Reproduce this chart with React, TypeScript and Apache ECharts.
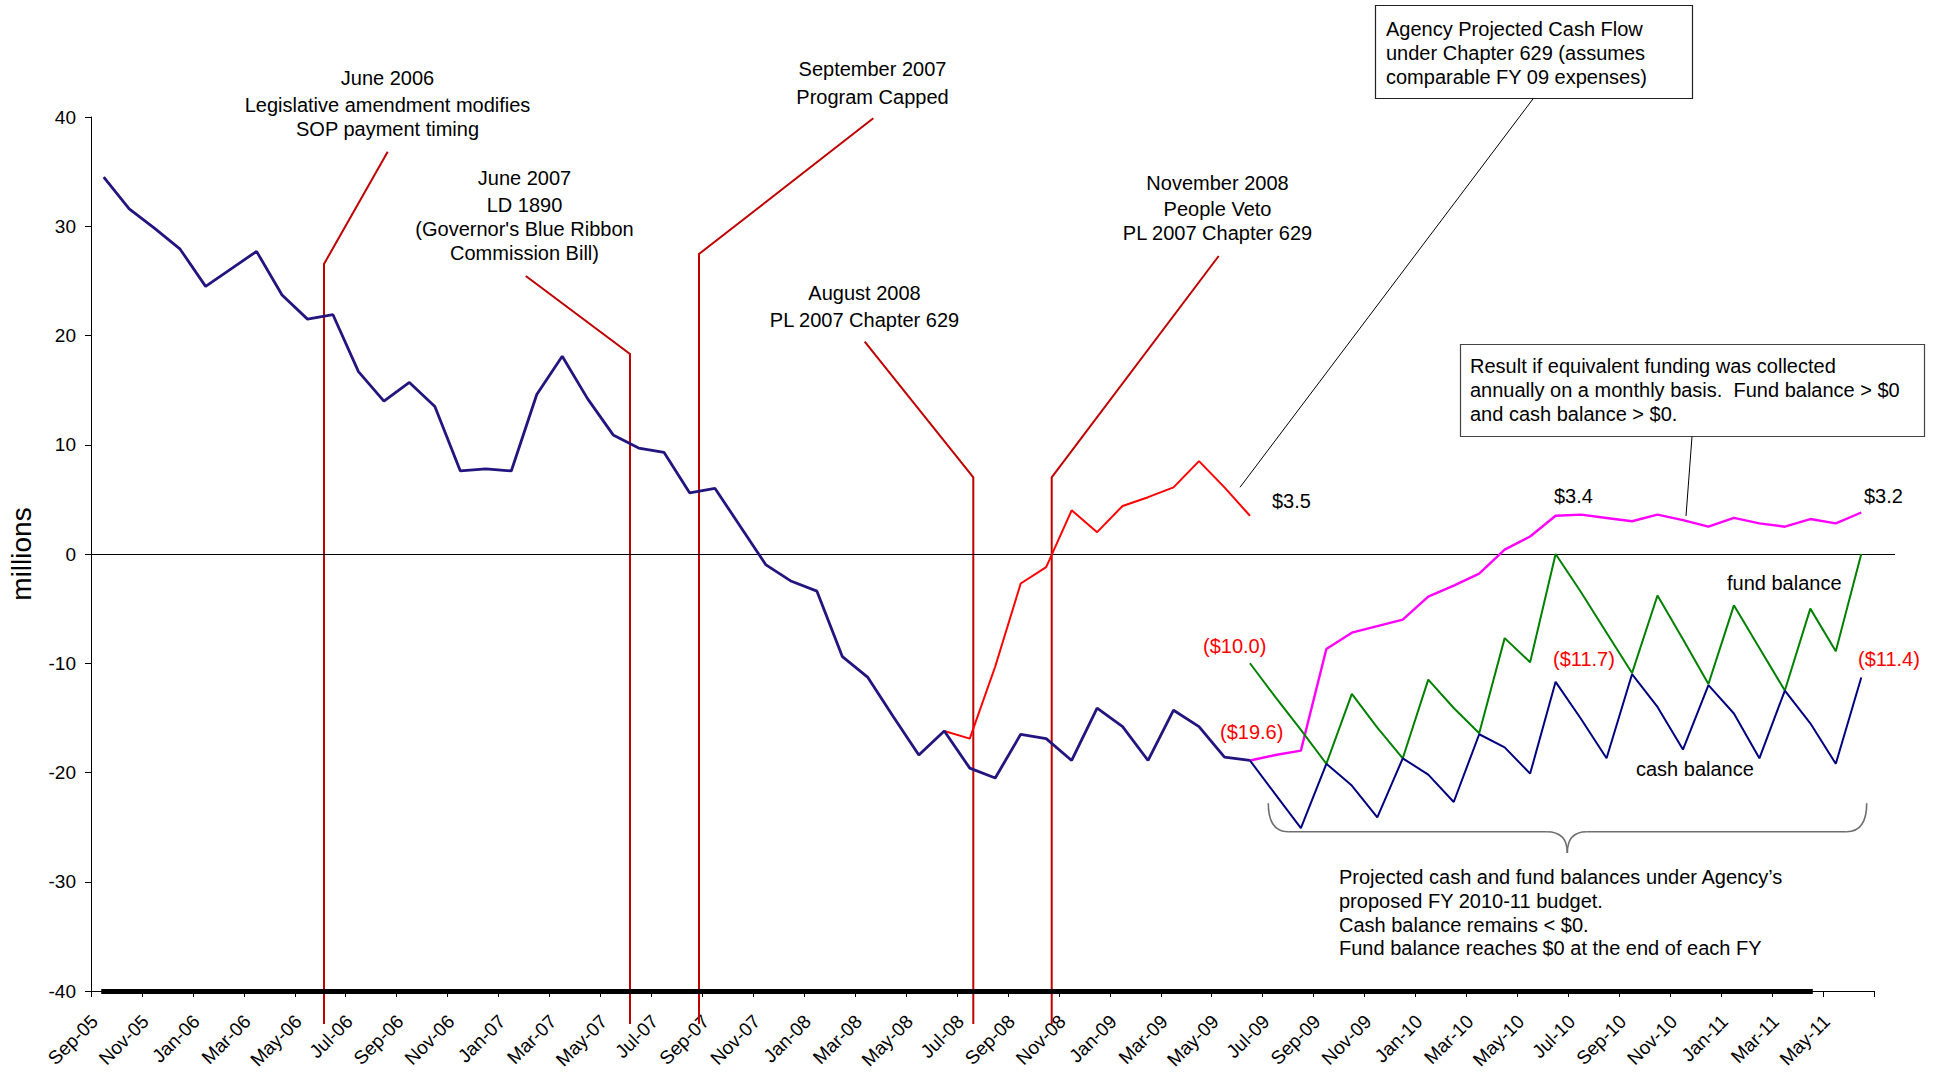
import React, { useEffect, useRef } from "react";
import * as echarts from "echarts";

// ---------- data ----------
const months = [
  "Sep-05","Oct-05","Nov-05","Dec-05","Jan-06","Feb-06","Mar-06","Apr-06","May-06","Jun-06",
  "Jul-06","Aug-06","Sep-06","Oct-06","Nov-06","Dec-06","Jan-07","Feb-07","Mar-07","Apr-07",
  "May-07","Jun-07","Jul-07","Aug-07","Sep-07","Oct-07","Nov-07","Dec-07","Jan-08","Feb-08",
  "Mar-08","Apr-08","May-08","Jun-08","Jul-08","Aug-08","Sep-08","Oct-08","Nov-08","Dec-08",
  "Jan-09","Feb-09","Mar-09","Apr-09","May-09","Jun-09","Jul-09","Aug-09","Sep-09","Oct-09",
  "Nov-09","Dec-09","Jan-10","Feb-10","Mar-10","Apr-10","May-10","Jun-10","Jul-10","Aug-10",
  "Sep-10","Oct-10","Nov-10","Dec-10","Jan-11","Feb-11","Mar-11","Apr-11","May-11","Jun-11",
];

// actual cash balance, Sep-05 .. Jun-09
const cashActual = [
  34.5, 31.6, 29.8, 27.9, 24.5, 26.1, 27.7, 23.7, 21.5, 21.9,
  16.7, 14.0, 15.7, 13.5, 7.6, 7.8, 7.6, 14.6, 18.1, 14.2,
  10.9, 9.7, 9.3, 5.6, 6.0, 2.5, -1.0, -2.5, -3.4, -9.4,
  -11.3, -14.9, -18.4, -16.2, -19.6, -20.5, -16.5, -16.9, -18.9, -14.1,
  -15.8, -18.9, -14.3, -15.8, -18.6, -18.9,
];
const cashActualStart = 0;

// Agency projected cash flow under Chapter 629, Jun-08 .. Jun-09
const chapter629 = [-16.2, -16.9, -10.3, -2.7, -1.2, 4.0, 2.0, 4.4, 5.2, 6.1, 8.5, 6.1, 3.5];
const chapter629Start = 33;

// projections, Jun-09 .. Jun-11
const projStart = 45;
const monthlyFunding = [
  -18.9, -18.4, -18.0, -8.7, -7.2, -6.6, -6.0, -3.9, -2.9, -1.8,
  0.4, 1.6, 3.5, 3.6, 3.3, 3.0, 3.6, 3.1, 2.5, 3.3,
  2.8, 2.5, 3.2, 2.8, 3.8,
];
const fundBalance = [
  -10.0, -13.1, -16.1, -19.2, -12.8, -15.9, -18.7, -11.5, -14.1, -16.4,
  -7.7, -9.9, 0.0, -3.5, -7.2, -10.9, -3.8, -7.8, -11.9, -4.7,
  -8.6, -12.5, -5.0, -8.9, 0.0,
];
const cashProjected = [
  -18.9, -22.0, -25.1, -19.2, -21.2, -24.1, -18.7, -20.2, -22.7, -16.5,
  -17.7, -20.1, -11.7, -15.1, -18.7, -11.0, -14.0, -17.9, -12.0, -14.6,
  -18.7, -12.5, -15.5, -19.2, -11.3,
];

const yMin = -40;
const yMax = 40;
const yStep = 10;
const baselineEnd = 67; // index of last month covered by the heavy base rule

const FONT = "'Liberation Sans', Arial, sans-serif";

function pad(start: number, values: number[]) {
  const out: (number | null)[] = months.map(() => null);
  values.forEach((v, k) => {
    out[start + k] = v;
  });
  return out;
}

// ---------- annotations (page pixels) ----------
type Note = { cx: number; lines: string[]; ys: number[] };
const eventNotes: Note[] = [
  { cx: 387.5, lines: ["June 2006", "Legislative amendment modifies", "SOP payment timing"], ys: [78, 105, 129] },
  { cx: 524.5, lines: ["June 2007", "LD 1890", "(Governor's Blue Ribbon", "Commission Bill)"], ys: [178, 205, 229, 253] },
  { cx: 872.5, lines: ["September 2007", "Program Capped"], ys: [69, 97] },
  { cx: 864.5, lines: ["August 2008", "PL 2007 Chapter 629"], ys: [293, 320] },
  { cx: 1217.5, lines: ["November 2008", "People Veto", "PL 2007 Chapter 629"], ys: [183, 209, 233] },
];
const eventLines: number[][][] = [
  [[387.7, 151.7], [324, 264], [324, 1024]],
  [[525.8, 276], [630, 354], [630, 1024]],
  [[873.3, 118.3], [699, 254], [699, 1024]],
  [[864.7, 341.7], [973.3, 477.3], [973.3, 1024]],
  [[1218.7, 256], [1051.7, 477.3], [1051.7, 1024]],
];

const box1Lines = ["Agency Projected Cash Flow", "under Chapter 629 (assumes", "comparable FY 09 expenses)"];
const box2Lines = [
  "Result if equivalent funding was collected",
  "annually on a monthly basis.  Fund balance > $0",
  "and cash balance > $0.",
];
const bottomLines = [
  "Projected cash and fund balances under Agency\u2019s",
  "proposed FY 2010-11 budget.",
  "Cash balance remains < $0.",
  "Fund balance reaches $0 at the end of each FY",
];

const valueNotes = [
  { text: "$3.5", x: 1272, y: 501, color: "#000" },
  { text: "$3.4", x: 1554, y: 496, color: "#000" },
  { text: "$3.2", x: 1864, y: 496, color: "#000" },
  { text: "($10.0)", x: 1203, y: 646, color: "#ff0000" },
  { text: "($19.6)", x: 1220, y: 732, color: "#ff0000" },
  { text: "($11.7)", x: 1553, y: 659, color: "#ff0000" },
  { text: "($11.4)", x: 1858, y: 659, color: "#ff0000" },
  { text: "fund balance", x: 1727, y: 583, color: "#000" },
  { text: "cash balance", x: 1636, y: 769, color: "#000" },
];

function txt(x: number, y: number, text: string, align: string, color = "#000", size = 20) {
  return {
    type: "text",
    x,
    y,
    z: 20,
    silent: true,
    style: { text, fill: color, font: `${size}px ${FONT}`, textAlign: align, textVerticalAlign: "middle" },
  };
}

function buildGraphics(zeroY: number) {
  const g: any[] = [];
  const zy = Math.round(zeroY) + 0.5;
  // zero reference rule (runs slightly past the plot edge as in the source)
  g.push({ type: "line", z: 2, silent: true, shape: { x1: 91, y1: zy, x2: 1895, y2: zy }, style: { stroke: "#000", lineWidth: 1 } });
  eventLines.forEach((pts) =>
    g.push({ type: "polyline", z: 1, silent: true, shape: { points: pts }, style: { stroke: "#c00000", lineWidth: 2, fill: null } })
  );
  eventNotes.forEach((n) => n.lines.forEach((l, k) => g.push(txt(n.cx, n.ys[k], l, "center"))));

  // box 1
  g.push({ type: "rect", z: 15, silent: true, shape: { x: 1375.5, y: 5.5, width: 317, height: 93 }, style: { fill: "#fff", stroke: "#222", lineWidth: 1.2 } });
  box1Lines.forEach((l, k) => g.push(txt(1386, 28.5 + k * 24, l, "left")));
  g.push({ type: "line", z: 15, silent: true, shape: { x1: 1533.3, y1: 98.5, x2: 1240, y2: 487.3 }, style: { stroke: "#000", lineWidth: 1 } });

  // box 2
  g.push({ type: "rect", z: 15, silent: true, shape: { x: 1460.5, y: 344.5, width: 464, height: 92 }, style: { fill: "#fff", stroke: "#444", lineWidth: 1.2 } });
  box2Lines.forEach((l, k) => g.push(txt(1470, 366 + k * 24.2, l, "left")));
  g.push({ type: "line", z: 15, silent: true, shape: { x1: 1692, y1: 436.5, x2: 1686, y2: 516 }, style: { stroke: "#000", lineWidth: 1 } });

  valueNotes.forEach((v) => g.push(txt(v.x, v.y, v.text, "left", v.color)));
  bottomLines.forEach((l, k) => g.push(txt(1339, 876.7 + k * 23.9, l, "left")));

  // brace
  const bs = { stroke: "#6e6e6e", lineWidth: 1.6, fill: null };
  const by = 831.7;
  g.push({ type: "bezierCurve", z: 5, silent: true, shape: { x1: 1268.3, y1: 803.3, cpx1: 1268.3, cpy1: by, x2: 1288.3, y2: by }, style: bs });
  g.push({ type: "line", z: 5, silent: true, shape: { x1: 1288.3, y1: by, x2: 1546.7, y2: by }, style: bs });
  g.push({ type: "bezierCurve", z: 5, silent: true, shape: { x1: 1546.7, y1: by, cpx1: 1567.3, cpy1: by, x2: 1567.3, y2: 853 }, style: bs });
  g.push({ type: "bezierCurve", z: 5, silent: true, shape: { x1: 1567.3, y1: 853, cpx1: 1567.3, cpy1: by, x2: 1586.7, y2: by }, style: bs });
  g.push({ type: "line", z: 5, silent: true, shape: { x1: 1586.7, y1: by, x2: 1846.7, y2: by }, style: bs });
  g.push({ type: "bezierCurve", z: 5, silent: true, shape: { x1: 1846.7, y1: by, cpx1: 1866.7, cpy1: by, x2: 1866.7, y2: 803.3 }, style: bs });
  return g;
}

export default function App() {
  const ref = useRef<HTMLDivElement>(null);
  useEffect(() => {
    if (!ref.current) return;
    const chart = echarts.init(ref.current, undefined, { renderer: "svg" });
    const lineBase = { type: "line", symbol: "none", silent: true, connectNulls: false };
    chart.setOption({
      animation: false,
      backgroundColor: "#fff",
      textStyle: { fontFamily: FONT },
      grid: { left: 91, right: 66, top: 117, bottom: 82, containLabel: false, outerBoundsMode: "none" },
      xAxis: {
        type: "category",
        data: months,
        boundaryGap: true,
        axisLine: { onZero: false, lineStyle: { color: "#000", width: 1 } },
        axisTick: { show: true, interval: 1, length: 6, lineStyle: { color: "#000" } },
        axisLabel: {
          interval: 1,
          rotate: 45,
          margin: 18,
          padding: [0, 13, 0, 0],
          color: "#000",
          fontSize: 19,
          fontFamily: FONT,
        },
        splitLine: { show: false },
      },
      yAxis: {
        type: "value",
        min: yMin,
        max: yMax,
        interval: yStep,
        name: "millions",
        nameLocation: "middle",
        nameRotate: 90,
        nameGap: 56,
        nameTextStyle: { color: "#000", fontSize: 28, fontFamily: FONT },
        axisLine: { show: true, onZero: false, lineStyle: { color: "#000", width: 1 } },
        axisTick: { show: true, length: 6, lineStyle: { color: "#000" } },
        axisLabel: { color: "#000", fontSize: 19, margin: 15, fontFamily: FONT },
        splitLine: { show: false },
      },
      series: [
        {
          ...lineBase,
          name: "Agency projected (Chapter 629)",
          data: pad(chapter629Start, chapter629),
          lineStyle: { color: "#ff0000", width: 2 },
          z: 3,
        },
        {
          ...lineBase,
          name: "Cash balance (actual)",
          data: pad(cashActualStart, cashActual),
          lineStyle: { color: "#22157f", width: 2.8 },
          z: 4,
          markLine: {
            silent: true,
            symbol: "none",
            label: { show: false },
            data: [
              [
                { coord: [months[0], yMin], lineStyle: { color: "#000", width: 5, type: "solid", cap: "square" } },
                { coord: [months[baselineEnd], yMin] },
              ],
            ],
          },
        },
        {
          ...lineBase,
          name: "Monthly funding result",
          data: pad(projStart, monthlyFunding),
          lineStyle: { color: "#ff00ff", width: 2.4 },
          z: 3,
        },
        {
          ...lineBase,
          name: "Fund balance",
          data: pad(projStart, fundBalance),
          lineStyle: { color: "#008000", width: 2 },
          z: 3,
        },
        {
          ...lineBase,
          name: "Cash balance (projected)",
          data: pad(projStart, cashProjected),
          lineStyle: { color: "#000080", width: 2 },
          z: 3,
        },
      ],
    });
    const zeroY = chart.convertToPixel({ yAxisIndex: 0 }, 0) as number;
    chart.setOption({ graphic: buildGraphics(zeroY) });
    return () => chart.dispose();
  }, []);
  return (
    <div
      ref={ref}
      style={{ position: "fixed", left: 0, top: 0, width: 1940, height: 1073, background: "#fff" }}
    />
  );
}
